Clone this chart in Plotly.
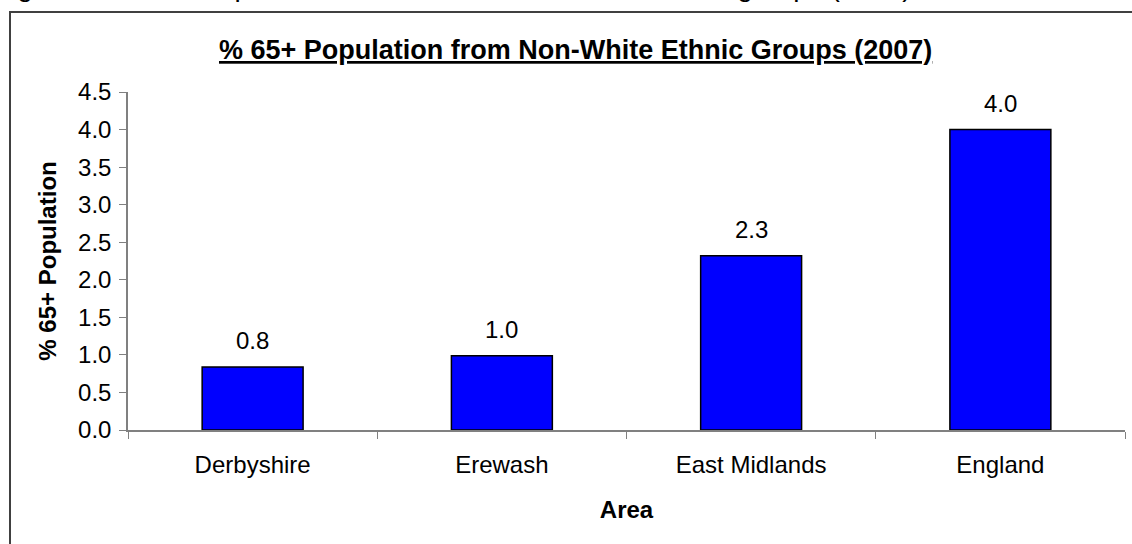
import plotly.graph_objects as go

# Share of the 65+ population from non-white ethnic groups, 2007
areas = ["Derbyshire", "Erewash", "East Midlands", "England"]
pct_65_plus = [0.84, 0.99, 2.32, 4.0]
y_ticks = [0.0, 0.5, 1.0, 1.5, 2.0, 2.5, 3.0, 3.5, 4.0, 4.5]

W, H = 1132, 544
L, R, T, B = 128, 7, 92, 114
pw, ph = W - L - R, H - T - B

def px_x(x):
    return (x - L) / pw

def px_y(y):
    return (H - B - y) / ph

FONT = "Arial, Liberation Sans, sans-serif"

fig = go.Figure(
    go.Bar(
        x=areas,
        y=pct_65_plus,
        marker=dict(color="#0000FF", line=dict(color="#000000", width=1.5)),
        width=0.405,
        hoverinfo="x+y",
    )
)

# Value labels above each bar
for a, v in zip(areas, pct_65_plus):
    fig.add_annotation(
        x=a, y=v, xref="x", yref="y",
        text=f"{v:.1f}", showarrow=False,
        yanchor="bottom", yshift=11,
        font=dict(family=FONT, size=24, color="#000000"),
    )

# Chart title (bold, underlined)
fig.add_annotation(
    x=px_x(575), y=px_y(50), xref="paper", yref="paper",
    text="<b><u>% 65+ Population from Non-White Ethnic Groups (2007)</u></b>",
    showarrow=False, xanchor="center", yanchor="middle",
    font=dict(family="Liberation Sans Narrow, Arial Narrow, Arial, sans-serif",
              size=27, color="#000000"),
)

# Document caption running along the top edge
fig.add_annotation(
    x=px_x(-8), y=px_y(4), xref="paper", yref="paper",
    text="Figure 5: % 65+ Population who are from Non-White Ethnic groups (2007)",
    showarrow=False, xanchor="left", yanchor="bottom",
    font=dict(family=FONT, size=28, color="#000000"),
)

# Frame around the chart
fig.add_shape(
    type="rect", xref="paper", yref="paper",
    x0=px_x(10), x1=px_x(1160), y0=px_y(570), y1=px_y(12),
    line=dict(color="#404040", width=2), fillcolor="rgba(0,0,0,0)",
    layer="below",
)

fig.update_layout(
    width=W, height=H,
    margin=dict(l=L, r=R, t=T, b=B, pad=0),
    paper_bgcolor="#FFFFFF",
    plot_bgcolor="#FFFFFF",
    showlegend=False,
    font=dict(family=FONT, color="#000000"),
)

fig.update_xaxes(
    showline=True, linecolor="#808080", linewidth=1.5,
    ticks="outside", ticklen=7, tickcolor="#808080", tickwidth=1,
    tickson="boundaries", ticklabelstandoff=12,
    showgrid=False, zeroline=False,
    tickfont=dict(family=FONT, size=24, color="#000000"),
    title=dict(text="<b>Area</b>", font=dict(family=FONT, size=24, color="#000000"),
               standoff=25),
    range=[-0.5, 3.5],
)

fig.update_yaxes(
    range=[0, 4.5],
    tickvals=y_ticks,
    ticktext=[f"{t:.1f}" for t in y_ticks],
    showline=True, linecolor="#808080", linewidth=1.5,
    ticks="outside", ticklen=7, tickcolor="#808080", tickwidth=1,
    ticklabelstandoff=3,
    showgrid=False, zeroline=False,
    tickfont=dict(family=FONT, size=24, color="#000000"),
    title=dict(text="<b>% 65+ Population</b>", font=dict(family=FONT, size=24, color="#000000"),
               standoff=15),
)

fig.write_html("out.html")
